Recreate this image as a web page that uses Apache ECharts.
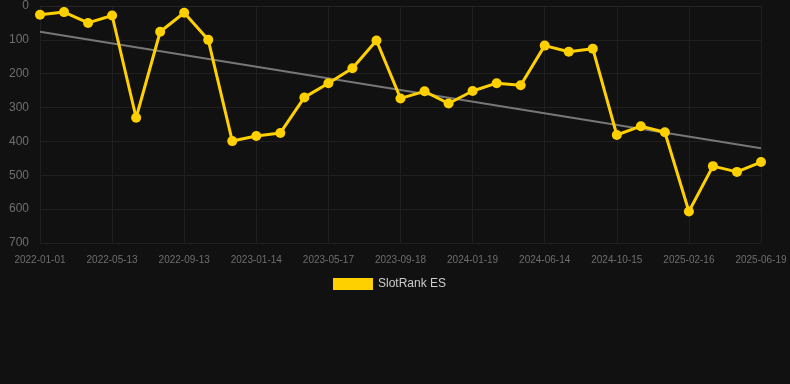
<!DOCTYPE html>
<html>
<head>
<meta charset="utf-8">
<script src="https://cdn.jsdelivr.net/npm/echarts@6/dist/echarts.min.js"></script>
<style>
html,body{margin:0;padding:0;background:#111111;}
#c{width:790px;height:384px;}
</style>
</head>
<body>
<div id="c"></div>
<script>
var categories = [
  '2022-01-01','2022-02-14','2022-03-30','2022-05-13','2022-06-23','2022-08-03',
  '2022-09-13','2022-10-24','2022-12-04','2023-01-14','2023-02-24','2023-04-06',
  '2023-05-17','2023-06-27','2023-08-07','2023-09-18','2023-10-29','2023-12-09',
  '2024-01-19','2024-03-07','2024-04-26','2024-06-14','2024-07-25','2024-09-04',
  '2024-10-15','2024-11-25','2025-01-05','2025-02-16','2025-03-29','2025-05-09',
  '2025-06-19'
];
var rankValues = [
  26, 18, 50, 28, 330, 76, 20, 100, 399, 384, 375, 270, 228, 184, 102, 273,
  252, 288, 251, 228, 234, 117, 135, 126, 381, 355, 373, 607, 473, 490, 461
];
var trendStart = 76;
var trendEnd = 420;
var yTicks = [0, 100, 200, 300, 400, 500, 600, 700];

var trendData = categories.map(function (c, i) {
  if (i === 0) return trendStart;
  if (i === categories.length - 1) return trendEnd;
  return null;
});

var chart = echarts.init(document.getElementById('c'), null, {renderer: 'canvas'});
chart.setOption({
  backgroundColor: '#111111',
  animation: false,
  grid: {left: 40, right: 29, top: 6, bottom: 141, containLabel: false},
  legend: {
    data: ['SlotRank ES'],
    top: 273,
    left: 328,
    itemWidth: 40,
    itemHeight: 12,
    icon: 'rect',
    textStyle: {color: '#cccccc', fontSize: 12, fontFamily: 'Liberation Sans, Arial, sans-serif'}
  },
  xAxis: {
    type: 'category',
    data: categories,
    boundaryGap: false,
    axisLine: {show: true, lineStyle: {color: '#262626'}},
    axisTick: {show: false},
    axisLabel: {interval: 2, color: '#6e6e6e', fontSize: 10, margin: 12, fontFamily: 'Liberation Sans, Arial, sans-serif'},
    splitLine: {show: true, interval: 2, lineStyle: {color: '#1f1f1f', width: 1}}
  },
  yAxis: {
    type: 'value',
    inverse: true,
    min: yTicks[0],
    max: yTicks[yTicks.length - 1],
    interval: 100,
    axisLine: {show: false},
    axisTick: {show: false},
    axisLabel: {color: '#6e6e6e', fontSize: 12, margin: 11, fontFamily: 'Liberation Sans, Arial, sans-serif'},
    splitLine: {show: true, lineStyle: {color: '#1f1f1f', width: 1}}
  },
  series: [
    {
      name: 'SlotRank ES',
      type: 'line',
      data: rankValues,
      symbol: 'circle',
      symbolSize: 10,
      lineStyle: {color: '#FFD000', width: 3},
      itemStyle: {color: '#FFD000'},
      z: 3
    },
    {
      name: 'Trend',
      type: 'line',
      data: trendData,
      connectNulls: true,
      symbol: 'none',
      lineStyle: {color: '#777777', width: 2},
      itemStyle: {color: '#777777'},
      z: 2
    }
  ]
});
</script>
</body>
</html>
